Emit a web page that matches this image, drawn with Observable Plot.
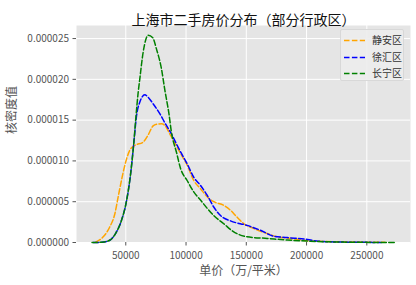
<!DOCTYPE html>
<html>
<head>
<meta charset="utf-8">
<script src="https://cdn.jsdelivr.net/npm/d3@7"></script>
<script src="https://cdn.jsdelivr.net/npm/@observablehq/plot@0.6"></script>
<style>
  body { margin: 0; background: #fff; }
  #wrap { position: relative; width: 416px; height: 285px; font-family: "Noto Sans CJK SC", "Noto Sans", sans-serif; }
  #legend { position: absolute; left: 340px; top: 29px; width: 64px; height: 52px; background: rgba(236,236,236,0.9); border: 1px solid #d8d8d8; border-radius: 2px; box-sizing: border-box; }
  .item { position: absolute; left: 0; height: 14px; font-size: 10px; color: #333; line-height: 14px; }
  .item svg { position: absolute; left: 3px; top: 6px; }
  .item span { position: absolute; left: 31px; top: 0; white-space: nowrap; }
</style>
</head>
<body>
<div id="wrap"><div id="legend"></div></div>
<script>
const titleText = "上海市二手房价分布（部分行政区）";
const xLabel = "单价（万/平米）";
const yLabel = "核密度值";
const seriesNames = ["静安区", "徐汇区", "长宁区"];
const seriesColors = ["orange", "blue", "green"];
const xTicks = [50000, 100000, 150000, 200000, 250000];
const yTicks = [0, 0.000005, 0.00001, 0.000015, 0.00002, 0.000025];

// 静安区 (density in units of 1e-6)
const jinganX = [25000, 31300, 36700, 40900, 43700, 46400, 49200, 53300, 57500, 64400, 68600, 72700, 76000, 79600, 83700, 86500, 90000, 95500, 100900, 106400, 112000, 117500, 123000, 131300, 136900, 142400, 148000, 156400, 167300, 175600, 186600, 203000, 230000, 265000];
const jinganY = [0.05, 0.7, 1.9, 3.5, 5.6, 7.6, 9.45, 11.3, 11.9, 12.3, 13.2, 14.3, 14.5, 14.55, 14.1, 13.3, 12.4, 10.9, 9.5, 7.6, 6.6, 5.6, 5.0, 4.55, 3.95, 3.1, 2.3, 1.7, 1.1, 0.7, 0.5, 0.2, 0.08, 0.02];
// 徐汇区
const xuhuiX = [23000, 30000, 36700, 41500, 46400, 50500, 54000, 56600, 59000, 61600, 65800, 68600, 72700, 78200, 82300, 87900, 92000, 95500, 100900, 106400, 112000, 117500, 123000, 128600, 136900, 150600, 161700, 172800, 184000, 200700, 209800, 230000, 262000];
const xuhuiY = [0, 0.03, 0.28, 1.1, 2.7, 5.0, 8.4, 12.1, 15.6, 17.2, 18.1, 17.8, 17.0, 15.8, 14.7, 13.3, 12.1, 11.1, 9.65, 8.0, 7.0, 5.8, 4.35, 3.3, 2.65, 2.1, 1.5, 0.77, 0.6, 0.37, 0.15, 0.05, 0.01];
// 长宁区
const changningX = [22000, 30000, 36700, 41500, 46400, 50500, 54000, 56600, 58300, 60300, 61600, 64400, 68600, 72400, 75500, 79600, 82300, 86000, 87900, 92000, 95500, 100900, 106400, 112000, 117500, 123000, 131300, 139600, 150600, 167300, 184000, 203000, 230000, 273000];
const changningY = [0, 0.03, 0.28, 1.1, 2.7, 5.0, 8.4, 12.1, 15.2, 18.4, 20.0, 23.3, 25.4, 25.1, 23.7, 21.3, 18.8, 15.6, 13.5, 11.1, 9.05, 7.6, 6.2, 5.2, 4.2, 3.3, 2.3, 1.3, 0.7, 0.5, 0.3, 0.16, 0.05, 0];

const seriesX = [jinganX, xuhuiX, changningX];
const seriesY = [jinganY, xuhuiY, changningY];
const data = [];
seriesNames.forEach((name, i) => {
  seriesX[i].forEach((x, j) => data.push({series: name, x, y: seriesY[i][j] * 1e-6}));
});

const font = "'Noto Sans CJK SC', 'Noto Sans', sans-serif";
const chart = Plot.plot({
  width: 416,
  height: 285,
  marginLeft: 76,
  marginRight: 6,
  marginTop: 25,
  marginBottom: 43,
  style: {fontFamily: font, fontSize: "10px", background: "white", color: "#555", overflow: "visible"},
  x: {domain: [9120, 286240]},
  y: {domain: [0, 0.0000266]},
  color: {domain: seriesNames, range: seriesColors},
  marks: [
    Plot.frame({fill: "#E5E5E5", stroke: null}),
    Plot.gridX(xTicks, {stroke: "white", strokeOpacity: 1, strokeWidth: 1}),
    Plot.gridY(yTicks, {stroke: "white", strokeOpacity: 1, strokeWidth: 1}),
    Plot.axisX(xTicks, {tickSize: 3.5, tickPadding: 5.5, tickFormat: d => String(d), stroke: "#555", fill: "#555", fontSize: 10, label: null}),
    Plot.axisY(yTicks, {tickSize: 3.5, tickPadding: 4, tickFormat: d => d.toFixed(6), stroke: "#555", fill: "#555", fontSize: 10, label: null}),
    Plot.line(data, {x: "x", y: "y", z: "series", stroke: "series", strokeWidth: 1.5, strokeDasharray: "5.5,2.4", curve: "monotone-x"}),
    Plot.text([titleText], {frameAnchor: "top", dy: -10, text: d => d, fontSize: 14, fill: "#111"}),
    Plot.text([xLabel], {frameAnchor: "bottom", dy: 32, text: d => d, fontSize: 12, fill: "#555"}),
    Plot.text([yLabel], {frameAnchor: "left", dx: -64, rotate: -90, text: d => d, fontSize: 12, fill: "#555"})
  ]
});
document.getElementById("wrap").prepend(chart);

const legend = document.getElementById("legend");
seriesNames.forEach((name, i) => {
  const item = document.createElement("div");
  item.className = "item";
  item.style.top = (3 + i * 16.6) + "px";
  item.innerHTML = `<svg width="22" height="3"><line x1="0" y1="1.5" x2="21" y2="1.5" stroke="${seriesColors[i]}" stroke-width="1.5" stroke-dasharray="5.5,2.4"/></svg><span>${name}</span>`;
  legend.appendChild(item);
});
</script>
</body>
</html>
